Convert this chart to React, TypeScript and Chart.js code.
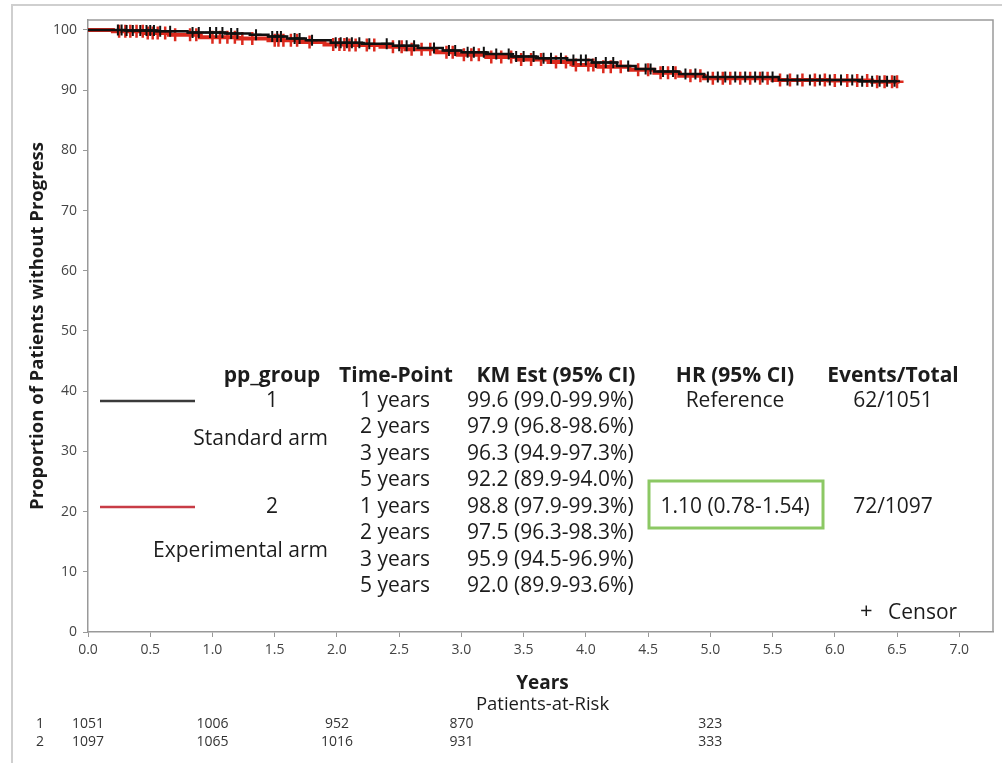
import React, { useEffect, useRef } from "react";
import { Chart, registerables } from "chart.js";

Chart.register(...registerables);

// ---------- data ----------
const xTicks = [0, 0.5, 1, 1.5, 2, 2.5, 3, 3.5, 4, 4.5, 5, 5.5, 6, 6.5, 7];
const yTicks = [0, 10, 20, 30, 40, 50, 60, 70, 80, 90, 100];

// Standard arm (pp_group 1) Kaplan-Meier steps
const stdTimes = [0, 0.3, 0.55, 0.8, 1.1, 1.3, 1.45, 1.6, 1.75, 1.95, 2.2, 2.45, 2.65, 2.85, 3.0, 3.2, 3.4, 3.6, 3.85, 4.05, 4.25, 4.4, 4.55, 4.75, 4.95, 5.55, 6.2, 6.5];
const stdSurv = [100, 99.9, 99.8, 99.6, 99.4, 99.2, 98.9, 98.6, 98.3, 97.9, 97.7, 97.4, 97.0, 96.6, 96.3, 96.0, 95.6, 95.3, 95.0, 94.6, 94.0, 93.5, 93.1, 92.7, 92.2, 91.7, 91.5, 91.5];

// Experimental arm (pp_group 2) Kaplan-Meier steps
const expTimes = [0, 0.2, 0.45, 0.65, 0.9, 1.2, 1.45, 1.7, 1.9, 2.1, 2.35, 2.55, 2.8, 2.97, 3.2, 3.45, 3.7, 3.9, 4.1, 4.35, 4.55, 4.75, 4.95, 5.5, 5.95, 6.3, 6.52];
const expSurv = [100, 99.8, 99.5, 99.2, 98.8, 98.6, 98.3, 98.0, 97.6, 97.5, 97.2, 96.8, 96.3, 95.9, 95.5, 95.1, 94.7, 94.2, 93.9, 93.4, 92.9, 92.4, 92.0, 91.7, 91.6, 91.4, 91.4];

// censor times
const stdCensor = [0.24, 0.27, 0.31, 0.36, 0.42, 0.47, 0.5, 0.53, 0.58, 0.66, 0.84, 0.89, 0.98, 1.03, 1.08, 1.15, 1.2, 1.35, 1.48, 1.52, 1.55, 1.66, 1.7, 1.8, 1.99, 2.03, 2.08, 2.12, 2.18, 2.26, 2.4, 2.5, 2.56, 2.62, 2.78, 2.9, 2.95, 3.05, 3.1, 3.18, 3.28, 3.38, 3.44, 3.5, 3.58, 3.66, 3.72, 3.8, 3.9, 3.96, 4.0, 4.08, 4.16, 4.22, 4.34, 4.48, 4.52, 4.62, 4.7, 4.8, 4.88, 4.98, 5.06, 5.12, 5.2, 5.28, 5.36, 5.42, 5.5, 5.62, 5.7, 5.8, 5.88, 5.96, 6.05, 6.14, 6.22, 6.3, 6.36, 6.42, 6.48];
const expCensor = [0.25, 0.3, 0.34, 0.39, 0.44, 0.48, 0.52, 0.56, 0.62, 0.7, 0.82, 0.87, 1.0, 1.06, 1.12, 1.18, 1.24, 1.32, 1.5, 1.53, 1.57, 1.63, 1.68, 1.78, 1.97, 2.02, 2.06, 2.1, 2.15, 2.24, 2.3, 2.45, 2.52, 2.6, 2.68, 2.75, 2.88, 2.93, 3.02, 3.08, 3.14, 3.24, 3.32, 3.4, 3.48, 3.56, 3.64, 3.76, 3.84, 3.92, 4.02, 4.06, 4.14, 4.2, 4.28, 4.42, 4.5, 4.6, 4.66, 4.72, 4.84, 4.92, 5.02, 5.1, 5.16, 5.24, 5.32, 5.4, 5.46, 5.56, 5.64, 5.74, 5.84, 5.92, 6.0, 6.1, 6.18, 6.26, 6.34, 6.4, 6.46, 6.5];

// patients at risk
const atRiskTimes = [0, 1, 2, 3, 5];
const atRiskStd = [1051, 1006, 952, 870, 323];
const atRiskExp = [1097, 1065, 1016, 931, 333];

// legend table
const tableHeaders = ["pp_group", "Time-Point", "KM Est (95% CI)", "HR (95% CI)", "Events/Total"];
const groupIds = ["1", "2"];
const groupNames = ["Standard arm", "Experimental arm"];
const timePoints = ["1 years", "2 years", "3 years", "5 years"];
const kmStd = ["99.6 (99.0-99.9%)", "97.9 (96.8-98.6%)", "96.3 (94.9-97.3%)", "92.2 (89.9-94.0%)"];
const kmExp = ["98.8 (97.9-99.3%)", "97.5 (96.3-98.3%)", "95.9 (94.5-96.9%)", "92.0 (89.9-93.6%)"];
const hrValues = ["Reference", "1.10 (0.78-1.54)"];
const eventsTotal = ["62/1051", "72/1097"];

const yTitle = "Proportion of Patients without Progress";
const xTitle = "Years";
const riskTitle = "Patients-at-Risk";

// ---------- helpers ----------
const BLACK = "#101010";
const RED = "#dc2a1e";
const TEXT = "#1c1c1c";

function survAt(times: number[], surv: number[], t: number) {
  let v = surv[0];
  for (let i = 0; i < times.length; i++) if (times[i] <= t) v = surv[i];
  return v;
}

const stepPts = (t: number[], s: number[]) => t.map((x, i) => ({ x, y: s[i] }));
const censorPts = (c: number[], t: number[], s: number[]) => c.map((x) => ({ x, y: survAt(t, s, x) }));

const FONT = "'Open Sans', 'DejaVu Sans', sans-serif";

const decorPlugin = {
  id: "decor",
  beforeDraw(chart: any) {
    const ctx = chart.ctx;
    ctx.save();
    ctx.fillStyle = "#ffffff";
    ctx.fillRect(0, 0, chart.width, chart.height);
    ctx.strokeStyle = "#cfcfcf";
    ctx.lineWidth = 2;
    ctx.strokeRect(12, 5, 1100, 900);
    ctx.restore();
  },
  afterDraw(chart: any) {
    const ctx = chart.ctx;
    const a = chart.chartArea;
    const xs = chart.scales.x;
    ctx.save();
    // frame top / right
    ctx.strokeStyle = "#9a9a9a";
    ctx.lineWidth = 1.5;
    ctx.beginPath();
    ctx.moveTo(a.left, a.top);
    ctx.lineTo(a.right, a.top);
    ctx.lineTo(a.right, a.bottom);
    ctx.stroke();

    // y title
    ctx.save();
    ctx.translate(38, 326);
    ctx.rotate(-Math.PI / 2);
    ctx.fillStyle = TEXT;
    ctx.font = `bold 18.5px ${FONT}`;
    ctx.textAlign = "center";
    ctx.textBaseline = "middle";
    ctx.fillText(yTitle, 0, 0);
    ctx.restore();

    const cx = (a.left + a.right) / 2;
    ctx.fillStyle = TEXT;
    ctx.textAlign = "center";
    ctx.textBaseline = "middle";
    ctx.font = `bold 19px ${FONT}`;
    ctx.fillText(xTitle, cx + 2, 684);
    ctx.font = `18.5px ${FONT}`;
    ctx.fillText(riskTitle, cx + 2, 705);

    // at risk
    ctx.font = `14px ${FONT}`;
    ctx.fillStyle = "#333";
    ctx.fillText(groupIds[0], 40, 724);
    ctx.fillText(groupIds[1], 40, 742);
    atRiskTimes.forEach((t, i) => {
      const px = xs.getPixelForValue(t);
      ctx.fillText(String(atRiskStd[i]), px, 724);
      ctx.fillText(String(atRiskExp[i]), px, 742);
    });

    // legend table
    const rowY0 = 401;
    const pitch = 26.5;
    ctx.fillStyle = TEXT;
    ctx.font = `bold 21px ${FONT}`;
    const hdrX = [272, 396, 556, 735, 893];
    tableHeaders.forEach((h, i) => ctx.fillText(h, hdrX[i], 376));

    ctx.font = `21px ${FONT}`;
    // legend line samples
    ctx.lineWidth = 2.5;
    ctx.strokeStyle = "#3a3a3a";
    ctx.beginPath();
    ctx.moveTo(100, rowY0);
    ctx.lineTo(195, rowY0);
    ctx.stroke();
    ctx.strokeStyle = "#c83c46";
    ctx.beginPath();
    ctx.moveTo(100, rowY0 + 4 * pitch);
    ctx.lineTo(195, rowY0 + 4 * pitch);
    ctx.stroke();

    ctx.textAlign = "center";
    ctx.fillText(groupIds[0], 272, rowY0);
    ctx.fillText(groupIds[1], 272, rowY0 + 4 * pitch);
    ctx.textAlign = "right";
    ctx.fillText(groupNames[0], 328, 439);
    ctx.fillText(groupNames[1], 328, 551);

    ctx.textAlign = "left";
    for (let g = 0; g < 2; g++) {
      const km = g === 0 ? kmStd : kmExp;
      timePoints.forEach((tp, i) => {
        const y = rowY0 + (g * 4 + i) * pitch;
        ctx.fillText(tp, 360, y);
        ctx.fillText(km[i], 467, y);
      });
    }
    ctx.textAlign = "center";
    ctx.fillText(hrValues[0], 735, rowY0);
    ctx.fillText(hrValues[1], 735, rowY0 + 4 * pitch);
    ctx.fillText(eventsTotal[0], 893, rowY0);
    ctx.fillText(eventsTotal[1], 893, rowY0 + 4 * pitch);

    // green highlight box
    ctx.strokeStyle = "#8cc864";
    ctx.lineWidth = 3;
    ctx.strokeRect(649, 481, 174, 47);

    // censor legend
    ctx.textAlign = "left";
    ctx.font = `22px ${FONT}`;
    ctx.fillText("+", 860, 612);
    ctx.font = `21px ${FONT}`;
    ctx.fillText("Censor", 888, 613);
    ctx.restore();
  },
};

export default function App() {
  const ref = useRef<HTMLCanvasElement | null>(null);

  useEffect(() => {
    document.body.style.margin = "0";
    const canvas = ref.current!;
    const chart = new Chart(canvas, {
      type: "line",
      data: {
        datasets: [
          {
            label: "Standard arm censor",
            data: censorPts(stdCensor, stdTimes, stdSurv),
            showLine: false,
            pointStyle: "cross",
            pointRadius: 5.5,
            pointBorderWidth: 2,
            borderColor: BLACK,
            backgroundColor: BLACK,
          },
          {
            label: "Standard arm",
            data: stepPts(stdTimes, stdSurv),
            stepped: "before",
            borderColor: BLACK,
            borderWidth: 2.5,
            pointRadius: 0,
            fill: false,
          },
          {
            label: "Experimental arm censor",
            data: censorPts(expCensor, expTimes, expSurv),
            showLine: false,
            pointStyle: "cross",
            pointRadius: 6.5,
            pointBorderWidth: 2.5,
            borderColor: RED,
            backgroundColor: RED,
          },
          {
            label: "Experimental arm",
            data: stepPts(expTimes, expSurv),
            stepped: "before",
            borderColor: RED,
            borderWidth: 4,
            pointRadius: 0,
            fill: false,
          },
        ],
      },
      options: {
        animation: false,
        responsive: false,
        devicePixelRatio: 1,
        layout: { padding: { left: 0, top: 20, right: 1, bottom: 0 } },
        plugins: { legend: { display: false }, tooltip: { enabled: false } },
        scales: {
          x: {
            type: "linear",
            min: 0,
            max: 7.271,
            afterBuildTicks: (s: any) => {
              s.ticks = xTicks.map((v) => ({ value: v }));
            },
            afterFit: (s: any) => {
              s.height = 131;
            },
            ticks: {
              callback: (v: any) => Number(v).toFixed(1),
              font: { family: FONT, size: 14 },
              color: "#444",
              padding: 5,
              maxRotation: 0,
              autoSkip: false,
            },
            grid: { display: true, drawOnChartArea: false, drawTicks: true, tickLength: 5, color: "#999" },
            border: { display: true, color: "#999", width: 1.5 },
          },
          y: {
            type: "linear",
            min: 0,
            max: 101.66,
            afterBuildTicks: (s: any) => {
              s.ticks = yTicks.map((v) => ({ value: v }));
            },
            afterFit: (s: any) => {
              s.width = 88;
            },
            ticks: {
              font: { family: FONT, size: 14 },
              color: "#444",
              padding: 6,
              autoSkip: false,
            },
            grid: { display: true, drawOnChartArea: false, drawTicks: true, tickLength: 5, color: "#999" },
            border: { display: true, color: "#999", width: 1.5 },
          },
        },
      },
      plugins: [decorPlugin],
    } as any);
    return () => chart.destroy();
  }, []);

  return (
    <div style={{ position: "absolute", left: 0, top: 0, width: 1002, height: 763 }}>
      <canvas ref={ref} width={1002} height={763} style={{ width: 1002, height: 763, display: "block" }} />
    </div>
  );
}
